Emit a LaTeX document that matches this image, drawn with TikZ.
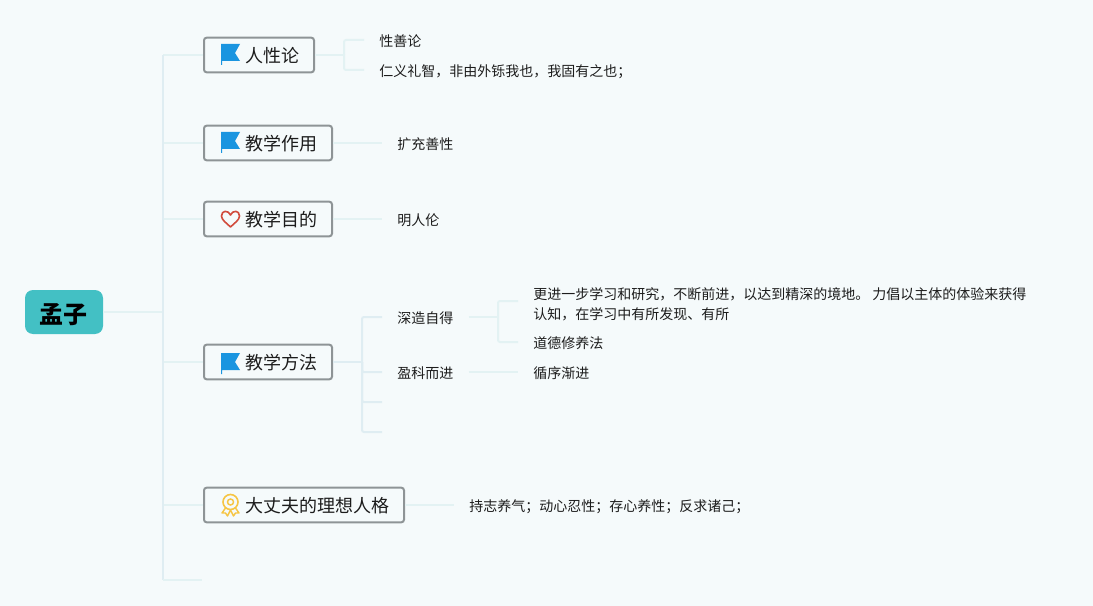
\documentclass[tikz,border=0pt]{standalone}
\usepackage{fontspec}
\setmainfont{Noto Sans CJK SC}
\definecolor{paper}{HTML}{F5FAFB}
\definecolor{teal1}{HTML}{43C0C4}
\definecolor{edge1}{HTML}{E3F2F3}
\definecolor{edge2}{HTML}{DFEDF2}
\definecolor{frame1}{HTML}{8E9496}
\definecolor{ink1}{HTML}{1C1C1C}
\definecolor{flagblue}{HTML}{1A95E0}
\definecolor{heartred}{HTML}{D14B3D}
\definecolor{medalgold}{HTML}{F6C544}
\tikzset{
    rootbox/.style={fill=teal1, rounded corners=6pt, minimum width=58.5pt, minimum height=33pt,
        text height=19pt, text depth=2.4pt,
        font=\fontsize{18pt}{20pt}\selectfont\bfseries, text=black},
    topicbox/.style={draw=frame1, line width=1.5pt, fill=paper, rounded corners=2pt, anchor=west,
        inner xsep=11.25pt, inner ysep=0pt, minimum height=26pt, text=ink1,
        text height=13.8pt, text depth=2pt,
        font=\fontsize{13.5pt}{16pt}\selectfont},
    leafbox/.style={anchor=west, inner xsep=11.25pt, inner ysep=0pt, align=left, text=ink1,
        font=\fontsize{10.5pt}{15pt}\selectfont},
    leafline/.style={leafbox, text height=11.3pt, text depth=1.5pt},
    limb/.style={draw=edge1, line width=1.5pt, rounded corners=1.5pt},
    trunk/.style={draw=edge2, line width=1.5pt, rounded corners=1.5pt},
    flagicon/.pic={
        \fill[flagblue] (-9.5,-9) -- (9.5,-9) -- (4.5,0) -- (9.5,8) -- (-8.5,8) -- (-8.5,12) -- (-9.5,12) -- cycle;
    },
    hearticon/.pic={
        \draw[heartred, line width=1.2pt, line join=round] (0,8) .. controls (-4,4) and (-9,1) .. (-9,-3)
            .. controls (-9,-9) and (-2,-9) .. (0,-4) .. controls (2,-9) and (9,-9) .. (9,-3)
            .. controls (9,1) and (4,4) .. (0,8) -- cycle;
    },
    medalicon/.pic={
        \draw[medalgold, line width=1.2pt] (0,-3) circle (7.5);
        \draw[medalgold, line width=1.1pt] (0,-3) circle (3);
        \draw[medalgold, line width=1.1pt, line join=round] (-5,3) -- (-8.5,8) -- (-5,8) -- (-3,11) -- (0,5)
            -- (3,11) -- (5,8) -- (8.5,8) -- (5,3);
    }
}
\begin{document}
\begin{tikzpicture}[x=0.75pt, y=-0.75pt]
    \fill[paper] (0,0) rectangle (1093,606);
    \useasboundingbox (0,0) rectangle (1093,606);

    \coordinate (hub) at (163,312);
    \coordinate (hubrx) at (344,55);
    \coordinate (hubff) at (362,362);
    \coordinate (hubsz) at (498,317);
    \coordinate (tail) at (202,580);
    \coordinate (ffc) at (382,402);
    \coordinate (ffd) at (382,432);
    \coordinate (gengjinend) at (518,301);

    \node[rootbox] (mengzi) at (64,312) {孟子};

    \node[topicbox] (renxing) at (203,55) {\hspace*{19.5pt}人性论};
    \node[topicbox] (zuoyong) at (203,143) {\hspace*{19.5pt}教学作用};
    \node[topicbox] (mudi) at (203,219) {\hspace*{19.5pt}教学目的};
    \node[topicbox] (fangfa) at (203,362) {\hspace*{19.5pt}教学方法};
    \node[topicbox] (renge) at (203,505) {\hspace*{19.5pt}大丈夫的理想人格};

    \pic at (230.5,53) {flagicon};
    \pic at (230.5,141) {flagicon};
    \pic at (230.5,219) {hearticon};
    \pic at (230.5,362) {flagicon};
    \pic at (230.5,505) {medalicon};

    \node[leafline] (xingshan) at (364,40) {性善论};
    \node[leafline] (renyi) at (364,70) {仁义礼智，非由外铄我也，我固有之也；};
    \node[leafline] (kuochong) at (382,143) {扩充善性};
    \node[leafline] (minglun) at (382,219) {明人伦};
    \node[leafline] (shenzao) at (382,317) {深造自得};
    \node[leafline] (yingke) at (382,372) {盈科而进};
    \node[leafbox] (gengjin) at (518,304) {更进一步学习和研究，不断前进，以达到精深的境地。 力倡以主体的体验来获得\\认知，在学习中有所发现、有所};
    \node[leafline] (daode) at (518,342) {道德修养法};
    \node[leafline] (xunxu) at (518,372) {循序渐进};
    \node[leafline] (chizhi) at (454,505) {持志养气；动心忍性；存心养性；反求诸己；};

    \draw[limb] (mengzi.east) -- (hub);
    \foreach \n in {renxing,zuoyong,mudi,fangfa,renge} {
        \draw[limb] (hub |- \n.west) -- (\n.west);
    }
    \draw[trunk] (renxing.west -| hub) -- (tail -| hub);
    \draw[limb] (tail -| hub) -- (tail);

    \draw[limb] (renxing.east) -- (hubrx);
    \foreach \n in {xingshan,renyi} {
        \draw[limb] (hubrx) |- (\n.west);
    }
    \draw[limb] (zuoyong.east) -- (kuochong.west);
    \draw[limb] (mudi.east) -- (minglun.west);

    \draw[trunk] (fangfa.east) -- (hubff);
    \foreach \n in {shenzao.west,yingke.west,ffc,ffd} {
        \draw[trunk] (hubff) |- (\n);
    }
    \draw[limb] (shenzao.east) -- (hubsz);
    \foreach \n in {gengjinend,daode.west} {
        \draw[limb] (hubsz) |- (\n);
    }
    \draw[limb] (yingke.east) -- (xunxu.west);
    \draw[limb] (renge.east) -- (chizhi.west);
\end{tikzpicture}
\end{document}
